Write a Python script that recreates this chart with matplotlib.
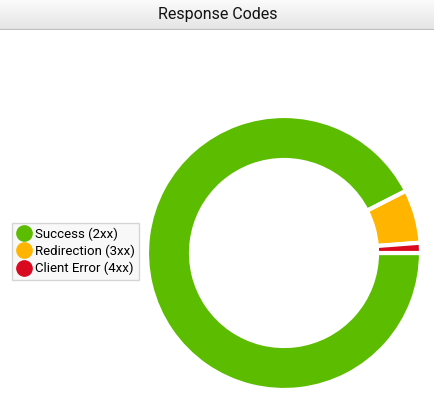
import matplotlib.pyplot as plt
import numpy as np

labels = ['Success (2xx)', 'Redirection (3xx)', 'Client Error (4xx)']
values = [92.5, 6.3, 1.2]
colors = ['#5cbc00', '#ffb400', '#d9091f']

plt.rcParams['font.family'] = ['Roboto', 'DejaVu Sans']
fig = plt.figure(figsize=(4.35, 4.16), dpi=100)

# title bar with gradient
bar = fig.add_axes([0, 1 - 30 / 416, 1, 30 / 416])
grad = np.linspace(1, 0, 50).reshape(-1, 1)
bar.imshow(grad, aspect='auto', cmap=plt.matplotlib.colors.LinearSegmentedColormap.from_list('g', ['#e4e4e4', '#fbfbfb']),
           extent=[0, 1, 0, 1])
bar.axhline(0, color='#bdbdbd', lw=1.5)
bar.text(0.5, 0.5, 'Response Codes', ha='center', va='center', fontsize=11.5, color='#111111')
bar.axis('off')

s = 140
ax = fig.add_axes([(284 - s) / 435, (416 - 253 - s) / 416, 2 * s / 435, 2 * s / 416])
wedges, _ = ax.pie(values, colors=colors, startangle=0, counterclock=False, radius=1,
                   wedgeprops=dict(width=44 / 137, edgecolor='white', linewidth=3))
lim = s / 137
ax.set_xlim(-lim, lim)
ax.set_ylim(-lim, lim)
ax.set_aspect('auto')
ax.axis('off')

handles = [plt.Line2D([], [], marker='o', ls='', markersize=11, color=c) for c in colors]
fig.legend(handles, labels, loc='upper left', bbox_to_anchor=(5 / 435, 1 - 216 / 416),
           frameon=True, fontsize=9.5, handletextpad=0.2, borderpad=0.35, labelspacing=0.3,
           handlelength=1.2, edgecolor='#cccccc', facecolor='#f7f7f7', fancybox=False)

fig.savefig('out.png')
